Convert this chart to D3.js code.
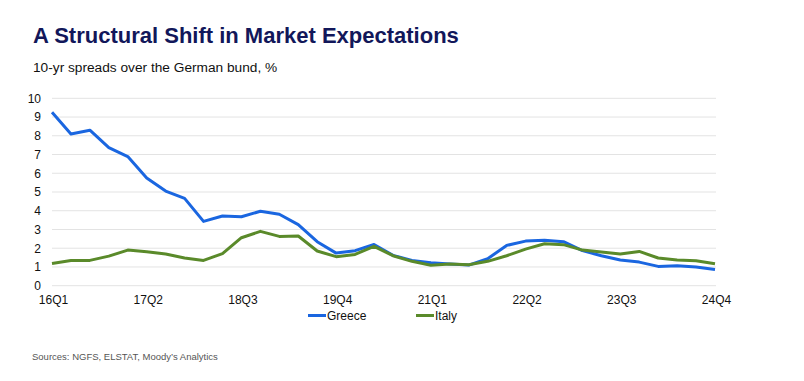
<!DOCTYPE html>
<html><head><meta charset="utf-8">
<script src="https://cdn.jsdelivr.net/npm/d3@7"></script>
<style>
body{margin:0;background:#fff;font-family:"Liberation Sans",Arial,sans-serif;}
</style></head><body>
<svg id="c" width="804" height="381"></svg>
<script>
const quarters = [];
for (let y = 16; y <= 24; y++) for (let q = 1; q <= 4; q++) quarters.push(y + "Q" + q);
const greece = [9.25,8.1,8.3,7.37,6.89,5.75,5.05,4.66,3.43,3.72,3.68,3.97,3.81,3.26,2.35,1.74,1.87,2.2,1.62,1.35,1.23,1.16,1.1,1.44,2.15,2.38,2.42,2.35,1.87,1.6,1.37,1.26,1.03,1.07,1.0,0.87];
const italy = [1.19,1.35,1.35,1.58,1.9,1.81,1.69,1.48,1.35,1.71,2.56,2.9,2.63,2.65,1.85,1.55,1.67,2.1,1.6,1.3,1.09,1.16,1.12,1.3,1.6,1.95,2.24,2.19,1.9,1.8,1.69,1.83,1.48,1.37,1.33,1.17];
const yTicks = [0,1,2,3,4,5,6,7,8,9,10];
const xTickLabels = ["16Q1","17Q2","18Q3","19Q4","21Q1","22Q2","23Q3","24Q4"];
const seriesNames = ["Greece","Italy"];
const colors = ["#1a66e0","#5a8a2a"];

const svg = d3.select("#c");
const x = d3.scalePoint().domain(quarters).range([52, 715]);
const y = d3.scaleLinear().domain([0, 10]).range([285.7, 98.3]);

svg.append("text").attr("x", 33).attr("y", 43).attr("fill", "#12175a")
  .attr("font-size", 22).attr("font-weight", "bold").text("A Structural Shift in Market Expectations");
svg.append("text").attr("x", 33).attr("y", 72).attr("fill", "#111")
  .attr("font-size", 13.7).text("10-yr spreads over the German bund, %");

// grid
svg.append("g").selectAll("line").data(yTicks).join("line")
  .attr("x1", 52).attr("x2", 716).attr("y1", d => y(d)).attr("y2", d => y(d))
  .attr("stroke", "#e3e3e3").attr("stroke-width", 1);

// y axis labels
const ya = svg.append("g").attr("transform", "translate(41,0)")
  .call(d3.axisLeft(y).tickValues(yTicks).tickSize(0).tickPadding(0));
ya.select(".domain").remove();
ya.selectAll("text").attr("font-size", 12).attr("fill", "#111").attr("font-family", "Liberation Sans, Arial, sans-serif");

// x axis labels
const xa = svg.append("g").attr("transform", "translate(1,295)")
  .call(d3.axisBottom(x).tickValues(xTickLabels).tickSize(0).tickPadding(0));
xa.select(".domain").remove();
xa.selectAll("text").attr("font-size", 12).attr("fill", "#111").attr("font-family", "Liberation Sans, Arial, sans-serif");

const line = d3.line().x((d, i) => x(quarters[i])).y(d => y(d));
[greece, italy].forEach((s, k) => {
  svg.append("path").attr("d", line(s)).attr("fill", "none")
    .attr("stroke", colors[k]).attr("stroke-width", 3).attr("stroke-linejoin", "round");
});

// legend
const legX = [308, 416];
seriesNames.forEach((n, k) => {
  svg.append("line").attr("x1", legX[k]).attr("x2", legX[k] + 18).attr("y1", 315.5).attr("y2", 315.5)
    .attr("stroke", colors[k]).attr("stroke-width", 3);
  svg.append("text").attr("x", legX[k] + 19).attr("y", 320).attr("font-size", 12).attr("fill", "#111").text(n);
});

svg.append("text").attr("x", 32).attr("y", 360).attr("font-size", 9.5).attr("fill", "#555")
  .text("Sources: NGFS, ELSTAT, Moody\u2019s Analytics");
</script>
</body></html>
